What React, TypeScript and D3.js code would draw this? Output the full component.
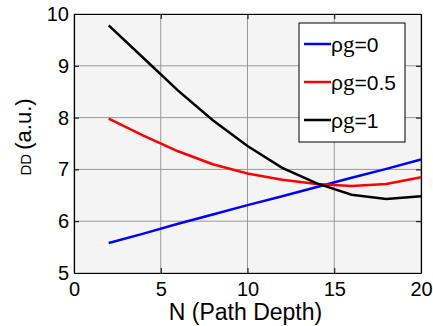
import React, { useRef, useEffect } from 'react';
import * as d3 from 'd3';

const depths = [2, 4, 6, 8, 10, 12, 14, 16, 18, 20];
const rho0 = [5.58, 5.76, 5.95, 6.13, 6.31, 6.48, 6.66, 6.84, 7.01, 7.19];
const rho05 = [7.98, 7.65, 7.35, 7.1, 6.92, 6.8, 6.72, 6.68, 6.72, 6.85];
const rho1 = [9.78, 9.15, 8.52, 7.95, 7.45, 7.03, 6.73, 6.51, 6.43, 6.48];
const seriesNames = ['0', '0.5', '1'];
const seriesColors = ['#0000ff', '#ff0000', '#000000'];
const xTicks = [0, 5, 10, 15, 20];
const yTicks = [5, 6, 7, 8, 9, 10];

const App = () => {
  const svgRef = useRef(null);
  const width = 433;
  const height = 326;

  useEffect(() => {
    const svg = d3.select(svgRef.current);
    svg.selectAll('*').remove();

    const margin = { top: 14, right: 12, bottom: 53, left: 74 };
    const innerWidth = width - margin.left - margin.right;
    const innerHeight = height - margin.top - margin.bottom;

    const x = d3.scaleLinear().domain([0, 20]).range([0, innerWidth]);
    const y = d3.scaleLinear().domain([5, 10]).range([innerHeight, 0]);

    const g = svg.append('g').attr('transform', `translate(${margin.left},${margin.top})`);

    g.append('rect')
      .attr('width', innerWidth)
      .attr('height', innerHeight)
      .attr('fill', '#f4f4f4');

    // grid
    g.selectAll('.vgrid')
      .data(xTicks)
      .enter().append('line')
      .attr('x1', d => x(d)).attr('x2', d => x(d))
      .attr('y1', 0).attr('y2', innerHeight)
      .attr('stroke', '#999').attr('stroke-width', 1);
    g.selectAll('.hgrid')
      .data(yTicks)
      .enter().append('line')
      .attr('x1', 0).attr('x2', innerWidth)
      .attr('y1', d => y(d)).attr('y2', d => y(d))
      .attr('stroke', '#999').attr('stroke-width', 1);

    const font = 'Liberation Sans, Arial, sans-serif';

    const xAxis = g.append('g')
      .attr('transform', `translate(0,${innerHeight})`)
      .call(d3.axisBottom(x).tickValues(xTicks).tickFormat(d3.format('d')).tickSizeInner(-5).tickSizeOuter(0).tickPadding(9));
    xAxis.selectAll('text').attr('font-size', 20).attr('font-family', font).attr('fill', '#000');

    const yAxis = g.append('g')
      .call(d3.axisLeft(y).tickValues(yTicks).tickFormat(d3.format('d')).tickSizeInner(-5).tickSizeOuter(0).tickPadding(5));
    yAxis.selectAll('text').attr('font-size', 20).attr('font-family', font).attr('fill', '#000');

    g.append('g')
      .call(d3.axisTop(x).tickValues(xTicks).tickSizeInner(-5).tickSizeOuter(0).tickFormat(() => ''));
    g.append('g')
      .attr('transform', `translate(${innerWidth},0)`)
      .call(d3.axisRight(y).tickValues(yTicks).tickSizeInner(-5).tickSizeOuter(0).tickFormat(() => ''));

    svg.selectAll('.domain').attr('stroke', '#000').attr('stroke-width', 1.2);
    svg.selectAll('.tick line').attr('stroke', '#000');

    const line = d3.line<number>()
      .x((d, i) => x(depths[i]))
      .y(d => y(d));

    [rho0, rho05, rho1].forEach((s, i) => {
      g.append('path')
        .datum(s)
        .attr('fill', 'none')
        .attr('stroke', seriesColors[i])
        .attr('stroke-width', 2.5)
        .attr('d', line);
    });

    // axis labels
    svg.append('text')
      .attr('x', margin.left + innerWidth / 2 - 2)
      .attr('y', 320)
      .attr('text-anchor', 'middle')
      .attr('font-family', font)
      .attr('font-size', 23)
      .text('N (Path Depth)');

    const yl = svg.append('text')
      .attr('transform', `translate(31,137) rotate(-90)`)
      .attr('text-anchor', 'middle')
      .attr('font-family', font);
    yl.append('tspan').attr('font-size', 15).text('DD  ');
    yl.append('tspan').attr('font-size', 22).text('(a.u.)');

    // legend
    const legend = svg.append('g').attr('transform', 'translate(299,23)');
    legend.append('rect')
      .attr('width', 106).attr('height', 119)
      .attr('fill', '#fff').attr('stroke', '#000').attr('stroke-width', 1);
    seriesNames.forEach((name, i) => {
      const ly = 21 + i * 38;
      legend.append('line')
        .attr('x1', 5).attr('x2', 32)
        .attr('y1', ly).attr('y2', ly)
        .attr('stroke', seriesColors[i]).attr('stroke-width', 2.5);
      const t = legend.append('text')
        .attr('x', 32).attr('y', ly + 8)
        .attr('font-size', 21)
        .attr('font-family', font);
      t.append('tspan').text('ρ');
      t.append('tspan').attr('font-family', "'Liberation Serif', serif").attr('font-size', 23).text('g');
      t.append('tspan').text('=' + name);
    });
  }, []);

  return <svg ref={svgRef} width={width} height={height} style={{ position: 'absolute', left: 0, top: 0 }} />;
};

export default App;
